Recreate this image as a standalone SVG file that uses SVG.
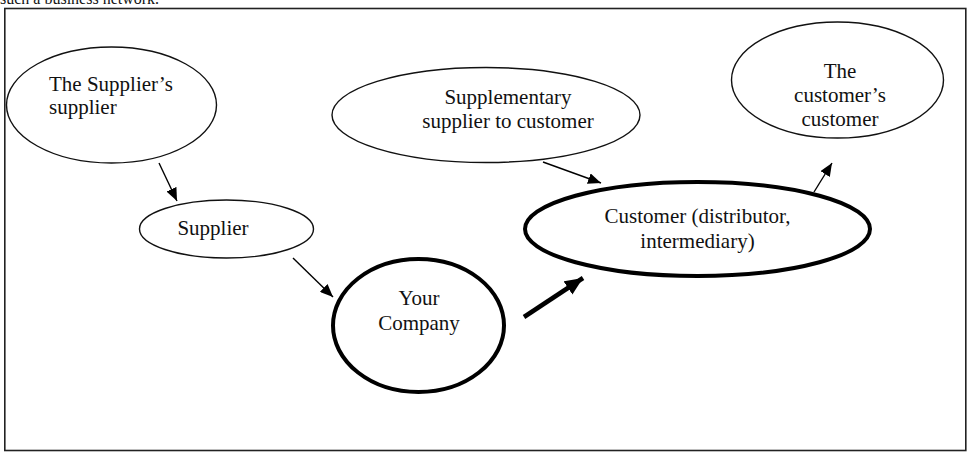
<svg xmlns="http://www.w3.org/2000/svg" width="968" height="452" viewBox="0 0 968 452">
<defs>
<style>
text{font-family:"Liberation Serif","Times New Roman",serif;font-size:21px;fill:#111}
.thin{fill:#fff;stroke:#111;stroke-width:1.4}
.thick{fill:#fff;stroke:#000;stroke-width:4}
.c{stroke:#000;stroke-width:1.4;fill:none}
.cb{stroke:#000;stroke-width:4.5;fill:none}
.mid{text-anchor:middle}
</style>
<marker id="ah" markerUnits="userSpaceOnUse" markerWidth="13" markerHeight="11" refX="13" refY="5.5" orient="auto">
<path d="M0,0 L13,5.5 L0,11 z" fill="#000"/>
</marker>
<marker id="ahb" markerUnits="userSpaceOnUse" markerWidth="18" markerHeight="16" refX="18" refY="8" orient="auto">
<path d="M0,0 L18,8 L0,16 z" fill="#000"/>
</marker>
</defs>
<rect width="968" height="452" fill="#fff"/>
<text x="0" y="4" style="font-size:16px">such a business network.</text>
<rect x="4.8" y="8.5" width="961" height="442" fill="none" stroke="#222" stroke-width="1.6"/>
<g id="connectors">
<line class="c" x1="159" y1="163" x2="177" y2="201" marker-end="url(#ah)"/>
<line class="c" x1="293" y1="258" x2="333" y2="297" marker-end="url(#ah)"/>
<line class="cb" x1="524" y1="317" x2="583" y2="278" marker-end="url(#ahb)"/>
<line class="c" x1="543" y1="162" x2="601" y2="183" marker-end="url(#ah)"/>
<line class="c" x1="814" y1="192" x2="832" y2="163" marker-end="url(#ah)"/>
</g>
<g id="suppliers-supplier">
<ellipse class="thin" cx="111.5" cy="105" rx="105" ry="58"/>
<text x="49" y="91">The Supplier’s</text>
<text x="49" y="114">supplier</text>
</g>
<g id="supplementary">
<ellipse class="thin" cx="486" cy="115" rx="154" ry="47.5"/>
<text class="mid" x="508" y="104">Supplementary</text>
<text class="mid" x="508" y="128">supplier to customer</text>
</g>
<g id="customers-customer">
<ellipse class="thin" cx="837.5" cy="80" rx="106" ry="58"/>
<text class="mid" x="840" y="78">The</text>
<text class="mid" x="840" y="102">customer’s</text>
<text class="mid" x="840" y="126">customer</text>
</g>
<g id="supplier">
<ellipse class="thin" cx="226.5" cy="229" rx="87" ry="29"/>
<text class="mid" x="213" y="235">Supplier</text>
</g>
<g id="your-company">
<ellipse class="thick" cx="418.5" cy="325.5" rx="85.5" ry="66.5"/>
<text class="mid" x="419" y="305">Your</text>
<text class="mid" x="419" y="330">Company</text>
</g>
<g id="customer">
<ellipse class="thick" cx="697.5" cy="229" rx="172.5" ry="47"/>
<text class="mid" x="697.5" y="223">Customer (distributor,</text>
<text class="mid" x="697.5" y="248">intermediary)</text>
</g>
</svg>
